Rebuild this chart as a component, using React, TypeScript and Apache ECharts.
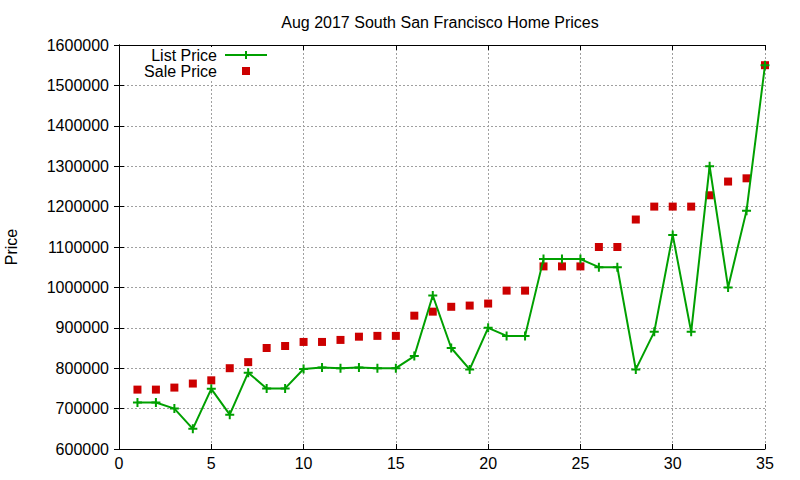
import React, { useEffect, useRef } from "react";
import * as echarts from "echarts";

// days of the month (x values)
const days: number[] = [
  1, 2, 3, 4, 5, 6, 7, 8, 9, 10, 11, 12, 13, 14, 15, 16, 17, 18, 19, 20, 21,
  22, 23, 24, 25, 26, 27, 28, 29, 30, 31, 32, 33, 34, 35,
];

const listPrice: number[] = [
  715000, 715000, 700000, 650000, 749000, 685000, 789000, 750000, 750000,
  798000, 802000, 800000, 802000, 800000, 800000, 830000, 980000, 850000,
  797000, 900000, 880000, 880000, 1070000, 1070000, 1070000, 1050000, 1050000,
  797000, 890000, 1130000, 890000, 1300000, 1000000, 1190000, 1550000,
];

const salePrice: number[] = [
  747000, 747000, 752000, 762000, 770000, 800000, 815000, 850000, 855000,
  865000, 865000, 870000, 878000, 880000, 880000, 930000, 940000, 952000,
  955000, 960000, 992000, 992000, 1052000, 1052000, 1052000, 1100000, 1100000,
  1168000, 1200000, 1200000, 1200000, 1228000, 1262000, 1270000, 1550000,
];

const seriesNames = ["List Price", "Sale Price"];
const chartTitle = "Aug 2017 South San Francisco Home Prices";

const FONT = "'Liberation Sans', Arial, sans-serif";
const GREEN = "#00a000";
const RED = "#cc0000";
const PLUS = "path://M3.5,0 H5.5 V3.5 H9 V5.5 H5.5 V9 H3.5 V5.5 H0 V3.5 H3.5 Z";

const App: React.FC = () => {
  const chartRef = useRef<HTMLDivElement>(null);

  useEffect(() => {
    if (!chartRef.current) return;
    document.body.style.margin = "0";
    const chart = echarts.init(chartRef.current, undefined, { renderer: "svg" });

    const axisLine = { show: true, lineStyle: { color: "#000", width: 1 } };
    const tick = { show: true, inside: true, length: 5, lineStyle: { color: "#000" } };
    const grid = {
      show: true,
      lineStyle: { color: "#a0a0a0", type: [2, 2] as number[], width: 1 },
    };

    const option: echarts.EChartsOption = {
      animation: false,
      backgroundColor: "#ffffff",
      textStyle: { fontFamily: FONT },
      grid: {
        left: 119,
        right: 35,
        top: 45,
        bottom: 31,
        containLabel: false,
        outerBoundsMode: "none",
      } as any,
      xAxis: [
        {
          type: "value",
          min: 0,
          max: 35,
          interval: 5,
          axisLine,
          axisTick: tick,
          splitLine: grid,
          axisLabel: { color: "#000", fontSize: 16, fontFamily: FONT, margin: 6 },
        },
        {
          type: "value",
          position: "top",
          min: 0,
          max: 35,
          interval: 5,
          axisLine,
          axisTick: tick,
          splitLine: { show: false },
          axisLabel: { show: false },
        },
      ],
      yAxis: [
        {
          type: "value",
          min: 600000,
          max: 1600000,
          interval: 100000,
          name: "Price",
          nameLocation: "middle",
          nameRotate: 90,
          nameGap: 100,
          nameTextStyle: { color: "#000", fontSize: 16, fontFamily: FONT },
          axisLine,
          axisTick: tick,
          splitLine: grid,
          axisLabel: {
            color: "#000",
            fontSize: 16,
            fontFamily: FONT,
            margin: 10,
            formatter: (v: number) => String(v),
          },
        },
        {
          type: "value",
          position: "right",
          min: 600000,
          max: 1600000,
          interval: 100000,
          axisLine,
          axisTick: tick,
          splitLine: { show: false },
          axisLabel: { show: false },
        },
      ],
      graphic: [
        {
          type: "text",
          x: 440,
          y: 22,
          style: {
            text: chartTitle,
            fill: "#000",
            font: `16px ${FONT}`,
            textAlign: "center",
            textVerticalAlign: "middle",
          },
        },
        {
          type: "rect",
          z: 100,
          shape: { x: 130, y: 47, width: 142, height: 32 },
          style: { fill: "#fff" },
        },
        {
          type: "text",
          z: 101,
          x: 217,
          y: 55,
          style: {
            text: seriesNames[0],
            fill: "#000",
            font: `16px ${FONT}`,
            textAlign: "right",
            textVerticalAlign: "middle",
          },
        },
        {
          type: "text",
          z: 101,
          x: 217,
          y: 71,
          style: {
            text: seriesNames[1],
            fill: "#000",
            font: `16px ${FONT}`,
            textAlign: "right",
            textVerticalAlign: "middle",
          },
        },
        {
          type: "line",
          z: 101,
          shape: { x1: 225, y1: 55, x2: 267, y2: 55 },
          style: { stroke: GREEN, lineWidth: 2 },
        },
        {
          type: "line",
          z: 101,
          shape: { x1: 246, y1: 51, x2: 246, y2: 59 },
          style: { stroke: GREEN, lineWidth: 2 },
        },
        {
          type: "rect",
          z: 101,
          shape: { x: 242, y: 67, width: 8, height: 8 },
          style: { fill: RED },
        },
      ],
      series: [
        {
          name: seriesNames[0],
          type: "line",
          data: days.map((d, i) => [d, listPrice[i]]),
          symbol: PLUS,
          symbolSize: 9,
          showSymbol: true,
          color: GREEN,
          itemStyle: { color: GREEN },
          lineStyle: { color: GREEN, width: 2 },
        },
        {
          name: seriesNames[1],
          type: "scatter",
          data: days.map((d, i) => [d, salePrice[i]]),
          symbol: "rect",
          symbolSize: 8,
          itemStyle: { color: RED, opacity: 1 },
        },
      ],
    };

    chart.setOption(option);
    return () => chart.dispose();
  }, []);

  return (
    <div
      ref={chartRef}
      style={{ width: 800, height: 480 }}
      aria-label="Aug 2017 South San Francisco home prices"
    />
  );
};

export default App;
